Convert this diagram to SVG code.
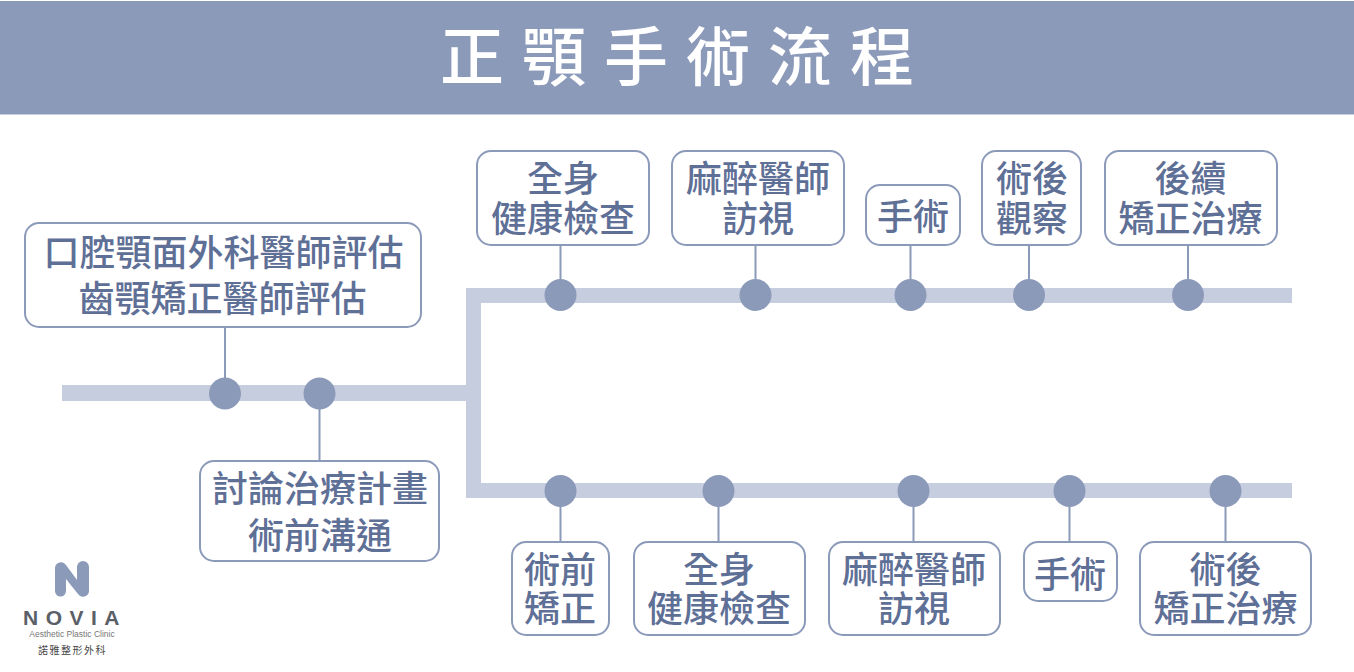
<svg xmlns="http://www.w3.org/2000/svg" width="1354" height="672" viewBox="0 0 1354 672">
<style>
text{font-family:"Noto Sans CJK TC","Noto Sans CJK SC",sans-serif;text-anchor:middle}
.box{fill:#fff;stroke:#8c9aba;stroke-width:2}
.t{font-size:36px;font-weight:500;fill:#5f7097}
.bar{fill:#c5cddf}
.stem{stroke:#8c9aba;stroke-width:2;fill:none}
.dot{fill:#8c9aba}
</style>
<rect width="1354" height="672" fill="#fff"/>
<g id="header">
<rect x="0" y="1" width="1354" height="113.500" fill="#8c9aba"/>
<text x="686" y="80" font-size="64" font-weight="500" fill="#fff" letter-spacing="18">正顎手術流程</text>
</g>
<g id="connectors">
<rect class="bar" x="62" y="385" width="404" height="16"/>
<rect class="bar" x="466" y="288" width="826" height="15"/>
<rect class="bar" x="466" y="288" width="15" height="210"/>
<rect class="bar" x="466" y="483" width="826" height="15"/>
<path class="stem" d="M225 327V393M319.500 393V461M560.500 245V295M755.500 245V295M910.500 245V295M1029 245V295M1188 245V295M560.500 491V542M718.500 491V542M913.500 491V542M1069.500 491V542M1225.500 491V542"/>
<circle class="dot" cx="225" cy="393.500" r="16"/><circle class="dot" cx="319.500" cy="393.500" r="16"/>
<circle class="dot" cx="560.500" cy="295" r="16"/><circle class="dot" cx="755.500" cy="295" r="16"/><circle class="dot" cx="910.500" cy="295" r="16"/><circle class="dot" cx="1029" cy="295" r="16"/><circle class="dot" cx="1188" cy="295" r="16"/>
<circle class="dot" cx="560.500" cy="491" r="16"/><circle class="dot" cx="718.500" cy="491" r="16"/><circle class="dot" cx="913.500" cy="491" r="16"/><circle class="dot" cx="1069.500" cy="491" r="16"/><circle class="dot" cx="1225.500" cy="491" r="16"/>
</g>
<g id="n1"><rect class="box" x="25" y="223" width="396" height="104" rx="14"/><text class="t"><tspan x="223.500" y="266">口腔顎面外科醫師評估</tspan><tspan x="222.500" y="312">齒顎矯正醫師評估</tspan></text></g>
<g id="n2"><rect class="box" x="200" y="461" width="239" height="100" rx="14"/><text class="t"><tspan x="320" y="502">討論治療計畫</tspan><tspan x="320" y="549">術前溝通</tspan></text></g>
<g id="t1"><rect class="box" x="477" y="151" width="172" height="94" rx="14"/><text class="t"><tspan x="563" y="192">全身</tspan><tspan x="563" y="232">健康檢查</tspan></text></g>
<g id="t2"><rect class="box" x="672" y="151" width="172" height="94" rx="14"/><text class="t"><tspan x="758" y="192">麻醉醫師</tspan><tspan x="758" y="232">訪視</tspan></text></g>
<g id="t3"><rect class="box" x="866" y="185" width="94" height="60" rx="14"/><text class="t" x="913" y="230">手術</text></g>
<g id="t4"><rect class="box" x="982" y="151" width="99" height="94" rx="14"/><text class="t"><tspan x="1032" y="192">術後</tspan><tspan x="1032" y="232">觀察</tspan></text></g>
<g id="t5"><rect class="box" x="1105" y="151" width="172" height="94" rx="14"/><text class="t"><tspan x="1190.500" y="192">後續</tspan><tspan x="1190.500" y="232">矯正治療</tspan></text></g>
<g id="b1"><rect class="box" x="512" y="542" width="97" height="93" rx="14"/><text class="t"><tspan x="560" y="583">術前</tspan><tspan x="560" y="622">矯正</tspan></text></g>
<g id="b2"><rect class="box" x="634" y="542" width="171" height="93" rx="14"/><text class="t"><tspan x="719" y="583">全身</tspan><tspan x="719" y="622">健康檢查</tspan></text></g>
<g id="b3"><rect class="box" x="829" y="542" width="171" height="93" rx="14"/><text class="t"><tspan x="914" y="583">麻醉醫師</tspan><tspan x="914" y="622">訪視</tspan></text></g>
<g id="b4"><rect class="box" x="1024" y="542" width="93" height="59" rx="14"/><text class="t" x="1070" y="588">手術</text></g>
<g id="b5"><rect class="box" x="1140" y="542" width="171" height="93" rx="14"/><text class="t"><tspan x="1225.500" y="583">術後</tspan><tspan x="1225.500" y="622">矯正治療</tspan></text></g>
<g id="logo">
<path d="M55 568a6 6 0 0 1 11-3l11 15v-13a6 6 0 0 1 12 0v24a6 6 0 0 1-11 3l-12-15v12a5.500 5.500 0 0 1-11 0z" fill="#8c9aba"/>
<text x="75" y="625" font-size="21" font-weight="700" fill="#5a5f68" letter-spacing="7.500" style="font-family:'Liberation Sans',sans-serif">NOVIA</text>
<text x="72" y="637" font-size="8.500" fill="#777" style="font-family:'Liberation Sans',sans-serif">Aesthetic Plastic Clinic</text>
<text x="72.500" y="654" font-size="10" fill="#444" letter-spacing="1.500">諾雅整形外科</text>
</g>
</svg>
